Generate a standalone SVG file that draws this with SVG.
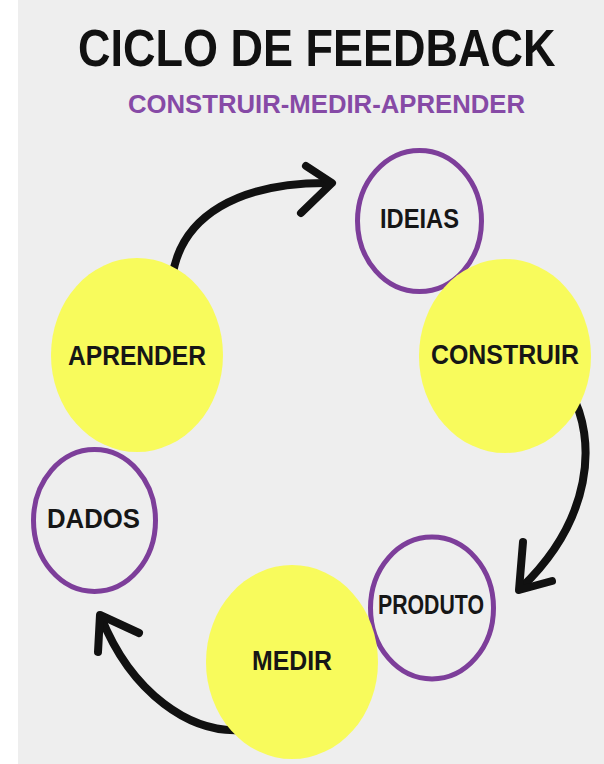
<svg xmlns="http://www.w3.org/2000/svg" width="604" height="764" viewBox="0 0 604 764">
<style>
.t{font-family:"Liberation Sans",Arial,sans-serif;font-weight:bold;}
.lbl{font-family:"Liberation Sans",Arial,sans-serif;font-weight:bold;font-size:27px;fill:#161616;text-anchor:middle;}
.ring{fill:none;stroke:#7d3e9a;stroke-width:5;}
.sun{fill:#f8fb5c;}
.arc{fill:none;stroke:#111;stroke-width:8;stroke-linecap:round;stroke-linejoin:round;}
</style>
<rect x="0" y="0" width="604" height="764" fill="#ffffff"/>
<rect x="18" y="0" width="586" height="764" fill="#eeeeee"/>
<text class="t" transform="translate(78,66) scale(1,1.17)" x="0" y="0" font-size="45" fill="#111">CICLO DE FEEDBACK</text>
<text class="t" x="128" y="113" font-size="26" fill="#864aa6" textLength="397" lengthAdjust="spacingAndGlyphs">CONSTRUIR-MEDIR-APRENDER</text>
<g id="connectors">
<path class="arc" d="M172,279 C180,215 240,182 330,183"/>
<path class="arc" d="M306,166 L332,183 L301,213"/>
<path class="arc" d="M570,391 C598,440 592,520 521,588"/>
<path class="arc" d="M523,542 L519,590 L552,581"/>
<path class="arc" d="M250,729 C190,738 130,690 101,617"/>
<path class="arc" d="M98,652 L100,615 L139,633"/>
</g>
<g id="ideias">
<ellipse class="ring" cx="419.5" cy="221" rx="62" ry="70.5"/>
<text class="lbl" x="419.5" y="228" textLength="79" lengthAdjust="spacingAndGlyphs">IDEIAS</text>
</g>
<g id="construir">
<ellipse class="sun" cx="505" cy="356" rx="86" ry="97"/>
<text class="lbl" x="505" y="364" textLength="148" lengthAdjust="spacingAndGlyphs">CONSTRUIR</text>
</g>
<g id="aprender">
<ellipse class="sun" cx="137" cy="355" rx="86" ry="97"/>
<text class="lbl" x="137" y="365" textLength="138" lengthAdjust="spacingAndGlyphs">APRENDER</text>
</g>
<g id="dados">
<ellipse class="ring" cx="94.5" cy="520.5" rx="61" ry="71"/>
<text class="lbl" x="93.5" y="528" textLength="93" lengthAdjust="spacingAndGlyphs">DADOS</text>
</g>
<g id="produto">
<ellipse class="ring" cx="432" cy="608" rx="61.5" ry="71"/>
<text class="lbl" x="431" y="614" font-size="23" textLength="106" lengthAdjust="spacingAndGlyphs">PRODUTO</text>
</g>
<g id="medir">
<ellipse class="sun" cx="292" cy="662" rx="86" ry="97"/>
<text class="lbl" x="292" y="670" textLength="80" lengthAdjust="spacingAndGlyphs">MEDIR</text>
</g>
</svg>
